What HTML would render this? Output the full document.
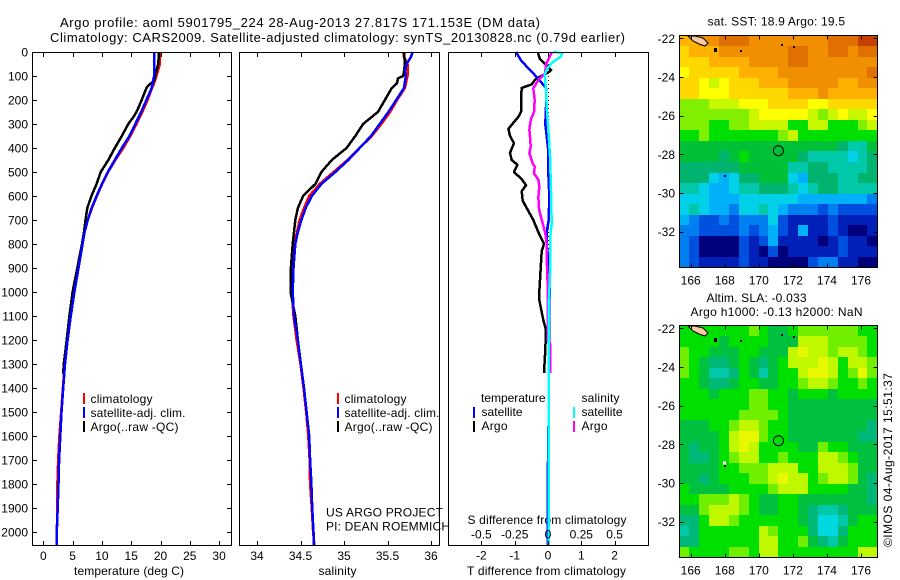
<!DOCTYPE html>
<html>
<head>
<meta charset="utf-8">
<title>Argo profile</title>
<style>
html,body{margin:0;padding:0;background:#fff;}
svg{display:block;}
text{font-family:"Liberation Sans",sans-serif;font-size:12px;fill:#000;}
.big{font-size:13px;}
</style>
</head>
<body>
<svg id="fig" xmlns="http://www.w3.org/2000/svg" width="900" height="580" viewBox="0 0 900 580">
<rect x="0" y="0" width="900" height="580" fill="#fff"/>
<text class="big" x="60" y="27" textLength="480">Argo profile: aoml 5901795_224 28-Aug-2013 27.817S 171.153E (DM data)</text>
<text class="big" x="50" y="42" textLength="575">Climatology: CARS2009. Satellite-adjusted climatology: synTS_20130828.nc (0.79d earlier)</text>
<text x="74" y="575" textLength="110">temperature (deg C)</text>
<text x="318.5" y="575" textLength="38">salinity</text>
<text x="467.5" y="524" textLength="159">S difference from climatology</text>
<text x="467" y="575" textLength="159">T difference from climatology</text>
<text x="326" y="516.5" textLength="117">US ARGO PROJECT</text>
<text x="326" y="530.5" textLength="124">PI: DEAN ROEMMICH</text>

<g>
<line x1="84" x2="84" y1="393" y2="404" stroke="#f00" stroke-width="2" shape-rendering="crispEdges"/>
<text x="90.5" y="403" textLength="62">climatology</text>
<line x1="84" x2="84" y1="407" y2="418" stroke="#00f" stroke-width="2" shape-rendering="crispEdges"/>
<text x="90.5" y="417" textLength="95">satellite-adj. clim.</text>
<line x1="84" x2="84" y1="421" y2="432" stroke="#000" stroke-width="2" shape-rendering="crispEdges"/>
<text x="90.5" y="431" textLength="88">Argo(..raw -QC)</text>
</g>
<g>
<line x1="338" x2="338" y1="393" y2="404" stroke="#f00" stroke-width="2" shape-rendering="crispEdges"/>
<text x="344.5" y="403" textLength="62">climatology</text>
<line x1="338" x2="338" y1="407" y2="418" stroke="#00f" stroke-width="2" shape-rendering="crispEdges"/>
<text x="344.5" y="417" textLength="95">satellite-adj. clim.</text>
<line x1="338" x2="338" y1="421" y2="432" stroke="#000" stroke-width="2" shape-rendering="crispEdges"/>
<text x="344.5" y="431" textLength="88">Argo(..raw -QC)</text>
</g>
<g>
<text x="481" y="402" textLength="64.5">temperature</text>
<line x1="474" x2="474" y1="407" y2="418" stroke="#00f" stroke-width="2" shape-rendering="crispEdges"/>
<text x="481.5" y="416" textLength="41">satellite</text>
<line x1="474" x2="474" y1="421" y2="432" stroke="#000" stroke-width="2" shape-rendering="crispEdges"/>
<text x="481.5" y="430" textLength="26">Argo</text>
<text x="581.5" y="402" textLength="38">salinity</text>
<line x1="574" x2="574" y1="407" y2="418" stroke="#0ff" stroke-width="2" shape-rendering="crispEdges"/>
<text x="581.5" y="416" textLength="41">satellite</text>
<line x1="574" x2="574" y1="421" y2="432" stroke="#f0f" stroke-width="2" shape-rendering="crispEdges"/>
<text x="581.5" y="430" textLength="26">Argo</text>
</g>

<text x="707.5" y="25.5" textLength="137.5">sat. SST: 18.9 Argo: 19.5</text>
<text x="706.5" y="302" textLength="100">Altim. SLA: -0.033</text>
<text x="690.5" y="316" textLength="172">Argo h1000: -0.13 h2000: NaN</text>
<text transform="translate(892,547) rotate(-90)" textLength="174">©IMOS 04-Aug-2017 15:51:37</text>
</svg>

<script>
// ---- Depth profile data ----
const depthTicks = [0,100,200,300,400,500,600,700,800,900,1000,1100,1200,1300,1400,1500,1600,1700,1800,1900,2000];
const tempTicks = [0,5,10,15,20,25,30];
const salTicks = ["34","34.5","35","35.5","36"];
const diffTTicks = ["-2","-1","0","1","2"];
const diffSTicks = ["-0.5","-0.25","0","0.25","0.5"];

const depthT = [0,50,100,130,150,200,250,300,350,400,450,500,550,600,650,700,750,800,900,1000,1100,1200,1300,1400,1500,1600,1700,1800,1900,2000,2055];
const climT = [19.9,19.9,19.3,18.9,18.55,17.8,16.9,15.9,14.85,13.65,12.3,11.05,10.05,9.15,8.3,7.6,7.05,6.65,5.95,5.25,4.65,4.1,3.65,3.35,3.05,2.75,2.55,2.4,2.4,2.3,2.3];
const satT = [18.9,18.9,18.9,18.66,18.5,17.6,16.7,15.7,14.7,13.4,12.2,11.0,10.0,9.1,8.25,7.6,7.05,6.7,6.0,5.3,4.7,4.15,3.7,3.4,3.1,2.9,2.7,2.6,2.45,2.3,2.3];
const depthArgoT = [0,50,80,100,120,140,150,200,250,270,300,350,400,450,500,550,600,650,700,750,800,900,1000,1100,1200,1300,1340];
const argoT = [19.75,19.6,19.3,19.1,18.9,17.9,17.6,16.8,15.9,15.4,14.5,13.4,12.2,11.1,9.8,9.1,8.2,7.5,7.2,6.95,6.6,5.8,5.0,4.45,4.0,3.5,3.4];

const depthS = [0,20,50,80,100,150,200,250,300,350,400,450,500,550,600,650,700,750,800,900,1000,1100,1200,1300,1400,1500,1600,1700,1800,1900,2000,2055];
const climS = [35.68,35.69,35.73,35.73,35.73,35.7,35.61,35.53,35.43,35.32,35.18,35.04,34.88,34.72,34.6,34.54,34.49,34.46,34.43,34.41,34.4,34.42,34.455,34.5,34.535,34.565,34.59,34.605,34.61,34.63,34.645,34.66];
const satS = [35.79,35.77,35.72,35.70,35.71,35.69,35.6,35.51,35.41,35.31,35.18,35.05,34.9,34.74,34.63,34.56,34.51,34.47,34.44,34.42,34.41,34.425,34.47,34.505,34.54,34.57,34.6,34.61,34.625,34.635,34.65,34.65];
const depthArgoS = [0,50,80,100,110,130,150,200,250,300,350,400,450,500,550,600,650,700,750,800,900,1000,1100,1200,1300];
const argoS = [35.69,35.7,35.69,35.68,35.62,35.61,35.55,35.47,35.39,35.22,35.13,35.03,34.86,34.74,34.67,34.53,34.47,34.44,34.425,34.41,34.39,34.385,34.44,34.47,34.505];

const depthDiffTArgo = [0,30,50,75,85,110,120,135,150,200,250,270,320,350,380,420,450,470,500,530,555,580,620,650,700,750,800,830,900,1000,1033,1117,1158,1242,1337];
const diffTArgo = [-0.31,-0.24,-0.09,0.09,0.01,-0.34,-0.41,-0.49,-0.79,-0.81,-0.81,-0.89,-1.19,-1.14,-1.02,-1.14,-1.09,-0.92,-1.02,-0.79,-0.66,-0.79,-0.76,-0.64,-0.44,-0.29,-0.12,-0.19,-0.22,-0.26,-0.26,-0.14,-0.06,-0.08,-0.12];
const depthDiffTSat = [0,33,61,89,117,150,200,300,350,400,500,600,700,750,800,900,1000,1100,1300,1500,1800,2055];
const diffTSat = [-0.96,-0.82,-0.64,-0.44,-0.26,-0.06,-0.05,-0.08,-0.04,0,0.01,0.04,0.02,-0.04,-0.04,0.02,0.05,0.03,0.03,0.02,-0.01,-0.01];
const depthDiffSArgo = [0,33,50,89,117,151,200,250,283,325,353,394,422,464,478,506,533,561,603,644,672,714,756,800,853,964,1075,1205,1215,1337];
const diffSArgo = [0.028,0.0025,-0.015,-0.022,-0.072,-0.11,-0.10,-0.105,-0.13,-0.14,-0.135,-0.13,-0.14,-0.115,-0.10,-0.105,-0.072,-0.065,-0.072,-0.07,-0.06,-0.04,-0.02,-0.01,-0.01,-0.003,-0.003,-0.003,0.015,0.015];
const depthDiffSSat = [0,5,20,40,68,96,158,228,367,436,575,714,783,922,1061,2055];
const diffSSat = [0.04,0.107,0.095,0.04,-0.005,-0.025,-0.015,-0.01,0.0075,0.015,0.0225,0.0275,0.015,0.015,0.005,0.005];

// ---- Map data: colour class per cell, north to south, west to east ----
const lonTicks = [166,168,170,172,174,176];
const latTicks = [-22,-24,-26,-28,-30,-32];
const sstGrid = [
[14,14,15,15,16,16,16,15,15,15,15,15,15,15,15,16,16,16,17,17],
[13,14,14,14,15,15,15,15,15,15,15,16,16,15,15,16,16,15,16,16],
[13,13,13,14,14,14,14,15,15,15,15,16,16,15,15,15,15,15,15,15],
[12,13,13,13,13,13,14,14,14,14,15,15,15,15,15,15,15,15,15,16],
[13,13,12,11,12,13,13,13,14,14,14,15,15,15,15,15,14,14,15,15],
[13,13,12,12,12,13,13,13,13,13,13,14,14,14,15,14,14,14,14,14],
[10,10,10,11,11,11,12,12,12,13,13,13,13,12,12,13,13,13,13,13],
[10,10,10,10,10,10,10,11,12,12,12,12,12,11,10,11,12,11,11,12],
[10,10,10,9,9,10,10,11,11,11,11,9,9,11,11,9,9,9,10,11],
[9,9,10,9,9,9,9,9,9,9,10,11,9,9,9,9,9,9,9,9],
[8,8,8,8,8,8,8,8,8,8,8,8,8,8,8,8,7,6,6,8],
[8,8,8,8,7,8,9,8,8,8,8,8,7,6,6,6,6,5,6,7],
[7,7,7,7,7,7,8,8,8,8,8,6,6,7,7,6,6,6,6,7],
[7,7,7,5,4,5,7,7,8,8,8,5,4,7,7,7,6,6,7,7],
[6,6,5,4,4,5,6,6,7,7,7,6,5,6,7,7,6,6,6,6],
[5,5,5,4,4,4,5,5,5,5,5,5,4,4,4,4,4,4,4,3],
[5,6,5,4,4,3,5,5,6,5,4,3,3,3,2,3,2,2,2,2],
[4,3,2,2,3,2,3,3,3,5,2,1,1,1,1,2,1,1,1,1],
[3,3,2,2,2,2,3,2,3,4,2,1,4,1,1,2,1,0,0,1],
[3,2,0,0,0,0,2,1,2,4,1,1,1,1,0,1,2,1,1,0],
[3,2,0,0,0,0,2,1,0,2,0,1,1,1,1,1,2,1,1,1],
[3,2,1,1,1,1,2,1,1,0,0,0,0,2,3,3,1,1,0,0]
];
const slaGrid = [
[9,9,9,9,9,9,9,10,9,8,8,9,10,10,10,10,10,10,9,9],
[9,9,9,9,8,9,9,9,9,8,8,8,11,11,11,10,10,10,10,9],
[10,9,9,8,8,8,9,9,8,8,8,11,12,11,11,10,11,11,10,9],
[10,9,8,7,7,8,9,8,7,8,9,11,11,11,12,11,9,11,11,10],
[10,9,8,6,6,7,9,8,6,8,9,9,11,12,12,11,9,10,12,10],
[9,9,8,7,7,8,9,9,8,8,9,9,10,11,11,10,9,9,10,9],
[9,9,9,8,9,9,9,10,10,9,9,8,9,9,9,8,9,9,9,9],
[9,9,9,9,9,9,9,10,10,9,9,8,8,8,8,8,8,8,8,8],
[9,9,9,9,9,9,10,10,10,10,9,8,8,8,8,8,8,8,8,8],
[8,8,8,9,9,10,11,11,10,9,9,8,8,8,8,8,8,8,8,7],
[8,8,8,8,9,11,12,12,10,9,9,8,8,8,8,8,8,8,7,7],
[8,7,8,8,9,11,12,11,9,9,9,9,8,8,10,9,9,8,8,8],
[8,7,7,8,9,10,11,11,9,9,10,9,9,9,11,11,10,9,8,8],
[8,8,8,8,9,9,10,10,10,11,11,11,9,9,11,11,11,10,8,8],
[8,8,7,8,9,9,9,10,10,11,12,11,11,9,10,11,11,10,8,7],
[9,8,8,8,8,9,9,9,9,10,11,11,11,9,9,9,9,8,8,7],
[9,9,10,10,10,11,10,9,8,8,9,9,8,8,8,8,8,8,8,7],
[8,8,10,11,11,11,10,9,8,8,9,9,8,7,6,6,7,8,8,8],
[7,7,9,11,11,10,9,9,9,9,9,9,8,7,5,5,6,8,9,9],
[6,7,9,9,9,9,9,9,11,10,9,9,9,7,5,5,7,9,9,9],
[7,7,9,9,9,9,9,9,11,11,9,9,10,8,7,6,8,9,9,9],
[10,9,9,9,9,10,10,9,11,11,9,9,9,9,9,9,9,9,11,11]
];
const sstPalette = ["#00007c","#0020b8","#0050e0","#0080f0","#00b0f8","#00d0e8","#00c8a8","#00b470","#00c038","#00e000","#80f000","#c8f800","#ffff00","#ffd800","#ffb000","#f09000","#e07000","#c84000"];
const slaPalette = ["#00007c","#0020b8","#0050e0","#0080f0","#00b0f8","#00d8e0","#00c8a8","#00b878","#00c040","#00e000","#70f000","#c0f800","#e8f800"];
const floatLon = [171.153];
const floatLat = [-27.817];
const speckLon = [168.9,171.3,172.0,167.93];
const speckLat = [-22.6,-22.3,-22.4,-29.07];

// ---- Axis functions ----
const svg = document.getElementById('fig');
const NS = 'http://www.w3.org/2000/svg';
const yDepth = d => 52 + d * 0.24;
const xTemp = v => 43.3 + v * 5.86;
const xSal = v => 257 + (v - 34) * 87;
const xDiffT = v => 548 + v * 33.3;
const xDiffS = v => 548 + v * 133.2;
const xLon = v => 690.7 + (v - 166) * 17.03;
const yLat = (v, top) => top + (-22 - v) * 19.33;

function make(tag, attrs, parent) {
  const el = document.createElementNS(NS, tag);
  for (const k in attrs) el.setAttribute(k, attrs[k]);
  (parent || svg).appendChild(el);
  return el;
}
function label(txt, x, y, anchor, parent) {
  const el = make('text', {x: x, y: y, 'text-anchor': anchor}, parent);
  el.textContent = txt;
  
  
  return el;
}
function tick(x1, y1, x2, y2, parent) {
  const el = make('line', {x1: x1, y1: y1, x2: x2, y2: y2, stroke: '#000', 'stroke-width': 1, 'shape-rendering': 'crispEdges'}, parent);
  
  
  return el;
}
function profile(name, depths, values, xf, color, parent, width) {
  const pts = depths.map((d, i) => xf(values[i]).toFixed(1) + ',' + yDepth(d).toFixed(1)).join(' ');
  const el = make('polyline', {points: pts, fill: 'none', stroke: color, 'stroke-width': width || 2.5, 'shape-rendering': 'crispEdges', 'stroke-linejoin': 'round'}, parent);
  
  
  return el;
}
function frame(name, x, y, w, h, parent) {
  const el = make('rect', {x: x, y: y, width: w, height: h, fill: 'none', stroke: '#000', 'stroke-width': 1, 'shape-rendering': 'crispEdges'}, parent);
  
  
  return el;
}
function group(name) {
  const el = make('g', {});
  
  
  return el;
}

// ---- Panel 1: temperature ----
const p1 = group('temperature-panel');
profile('climatology-temperature-line', depthT, climT, xTemp, '#f00', p1);
profile('argo-temperature-line', depthArgoT, argoT, xTemp, '#000', p1);
profile('satellite-temperature-line', depthT, satT, xTemp, '#00f', p1);
frame('temperature-plot-frame', 32.5, 52.5, 199, 493, p1);
depthTicks.forEach(d => {
  const y = Math.round(yDepth(d)) + 0.5;
  if (d > 0) {
    tick(33, y, 37, y, p1);
    tick(227, y, 231, y, p1);
  }
  label(String(d), 28, yDepth(d) + 4.5, 'end', p1);
});
tempTicks.forEach(v => {
  const x = Math.round(xTemp(v)) + 0.5;
  tick(x, 53, x, 57, p1);
  tick(x, 541, x, 545, p1);
  label(String(v), xTemp(v), 560, 'middle', p1);
});

// ---- Panel 2: salinity ----
const p2 = group('salinity-panel');
profile('climatology-salinity-line', depthS, climS, xSal, '#f00', p2);
profile('argo-salinity-line', depthArgoS, argoS, xSal, '#000', p2);
profile('satellite-salinity-line', depthS, satS, xSal, '#00f', p2);
frame('salinity-plot-frame', 239.5, 52.5, 200, 493, p2);
salTicks.forEach(s => {
  const v = parseFloat(s);
  const x = Math.round(xSal(v)) + 0.5;
  tick(x, 53, x, 57, p2);
  tick(x, 541, x, 545, p2);
  label(s, xSal(v), 560, 'middle', p2);
});

// ---- Panel 3: differences ----
const p3 = group('difference-panel');
const zeroLine = make('line', {x1: 548.5, x2: 548.5, y1: 52, y2: 545, stroke: '#000', 'stroke-width': 1, 'stroke-dasharray': '1 3', 'shape-rendering': 'crispEdges'}, p3);


profile('argo-temperature-difference-line', depthDiffTArgo, diffTArgo, xDiffT, '#000', p3);
profile('satellite-temperature-difference-line', depthDiffTSat, diffTSat, xDiffT, '#00f', p3);
profile('argo-salinity-difference-line', depthDiffSArgo, diffSArgo, xDiffS, '#f0f', p3);
profile('satellite-salinity-difference-line', depthDiffSSat, diffSSat, xDiffS, '#0ff', p3);
frame('difference-plot-frame', 448.5, 52.5, 200, 493, p3);
diffTTicks.forEach(s => {
  const v = parseFloat(s);
  const x = Math.round(xDiffT(v)) + 0.5;
  tick(x, 53, x, 57, p3);
  tick(x, 541, x, 545, p3);
  label(s, xDiffT(v), 559.5, 'middle', p3);
});
diffSTicks.forEach(s => {
  const v = parseFloat(s);
  label(s, xDiffS(v), 538.5, 'middle', p3);
});

// ---- Maps ----
const mapLeft = 679.5, mapRight = 877.5;
function drawMap(name, grid, palette, top, bottom, latTop, showWhiteSpeck) {
  const g = group(name);
  const rows = grid.length, cols = grid[0].length;
  const lonW = 165.33, lonE = 176.96;
  const spanLat = (bottom - top) / 19.33;
  const northLat = -22 + (latTop - top) / 19.33;
  grid.forEach((row, r) => {
    row.forEach((val, c) => {
      const x0 = Math.round(xLon(lonW + (lonE - lonW) * c / cols));
      const x1 = Math.round(xLon(lonW + (lonE - lonW) * (c + 1) / cols));
      const y0 = Math.round(yLat(northLat - spanLat * r / rows, latTop));
      const y1 = Math.round(yLat(northLat - spanLat * (r + 1) / rows, latTop));
      const cell = make('rect', {x: x0, y: y0, width: x1 - x0, height: y1 - y0, fill: palette[val], 'shape-rendering': 'crispEdges'}, g);
      
      
    });
  });
  // land: island at the top-left corner and small islets
  const dy = latTop - 38.3;
  const island = make('polygon', {points: [[688,36],[695,36],[703,38],[708,43],[705,46],[699,44],[693,41]].map(p => p[0] + ',' + (p[1] + dy)).join(' '), fill: '#f8c8a0', stroke: '#000', 'stroke-width': 1}, g);
  
  
  const islet = make('rect', {x: 714, y: 48 + dy, width: 3, height: 4, fill: '#000'}, g);
  
  
  speckLon.forEach((lon, i) => {
    const speck = make('rect', {x: Math.round(xLon(lon)), y: Math.round(yLat(speckLat[i], latTop)), width: 2, height: 2, fill: '#000', 'shape-rendering': 'crispEdges'}, g);
    
    
  });
  if (showWhiteSpeck) {
    const white = make('rect', {x: 723, y: yLat(-28.9, latTop), width: 3, height: 3, fill: '#fff', 'shape-rendering': 'crispEdges'}, g);
    
    
  }
  frame(name + '-frame', mapLeft, top, mapRight - mapLeft, bottom - top, g);
  lonTicks.forEach(v => {
    const x = Math.round(xLon(v)) + 0.5;
    tick(x, top, x, top + 4, g);
    tick(x, bottom - 4, x, bottom, g);
    label(String(v), xLon(v), bottom + 17, 'middle', g);
  });
  latTicks.forEach(v => {
    const y = Math.round(yLat(v, latTop)) + 0.5;
    tick(mapLeft, y, mapLeft + 4, y, g);
    tick(mapRight - 4, y, mapRight, y, g);
    label(String(v), 675, yLat(v, latTop) + 4.5, 'end', g);
  });
  const marker = make('circle', {cx: xLon(floatLon[0]), cy: yLat(floatLat[0], latTop), r: 5, fill: 'none', stroke: '#000', 'stroke-width': 1}, g);
  
  
}
drawMap('sst-map', sstGrid, sstPalette, 35.5, 267.5, 38.3, false);
drawMap('sla-map', slaGrid, slaPalette, 325.5, 557.5, 328.3, true);
</script>
</body>
</html>
